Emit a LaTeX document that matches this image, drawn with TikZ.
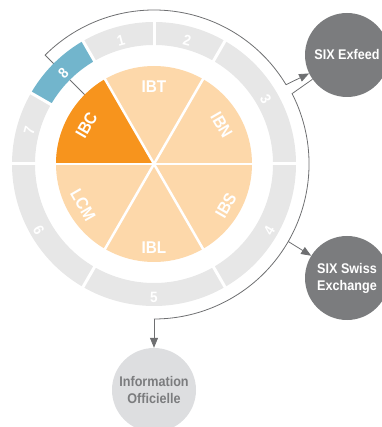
\documentclass[tikz,border=0pt]{standalone}
\usepackage{fontspec}
\setmainfont{Liberation Sans}[FakeStretch=0.9]
\usetikzlibrary{arrows.meta}
\definecolor{pieLight}{HTML}{FDD8AA}
\definecolor{pieDark}{HTML}{F7941D}
\definecolor{ringGray}{HTML}{E7E7E7}
\definecolor{ringBlue}{HTML}{72B5CC}
\definecolor{darkCirc}{HTML}{7B7C7E}
\definecolor{lightCirc}{HTML}{DDDEE0}
\definecolor{lineGray}{HTML}{6E6F71}
\begin{document}
\begin{tikzpicture}[x=1pt,y=1pt,
  bigcirc/.style={circle, minimum size=84pt, inner sep=0pt, align=center,
    font=\bfseries\fontsize{14}{17}\selectfont, text=white},
  pielabel/.style={text=white, font=\bfseries\fontsize{17}{17}\selectfont, inner sep=0pt},
  ringnum/.style={text=white, font=\bfseries\fontsize{15}{15}\selectfont, inner sep=0pt},
  conn/.style={draw=lineGray, line width=0.8pt},
  arr/.style={-{Triangle[length=10pt,width=8pt]}}]
\useasboundingbox (-154,-263) rectangle (227,164);

% connector arc
\coordinate (a0) at (135:97);
\coordinate (a1) at (135:154);
\draw[conn] (a0) -- (a1) arc[start angle=135, end angle=31, radius=154] coordinate (a2);
\coordinate (a3) at (27:155);
\coordinate (a5) at (-30:155);

% ring segments
\foreach \a/\b/\c in {0/60/ringGray,60/90/ringGray,90/120/ringGray,120/150/ringBlue,150/180/ringGray,180/240/ringGray,240/300/ringGray,300/360/ringGray}{
  \fill[\c] (\a:119) arc[start angle=\a, end angle=\b, radius=119] -- (\b:142)
    arc[start angle=\b, end angle=\a, radius=142] -- cycle;
}
\foreach \a in {0,60,90,120,150,180,240,300}{
  \draw[white, line width=3pt] (\a:117) -- (\a:144);
}

% pie
\fill[pieLight] (0,0) circle (98);
\fill[pieDark] (0,0) -- (120:98) arc[start angle=120, end angle=180, radius=98] -- cycle;
\foreach \a in {0,60,120}{
  \draw[white, line width=2.5pt] (\a:99) -- (\a+180:99);
}

% pie labels
\node[pielabel, rotate=0]   (ibt) at (90:77)  {IBT};
\node[pielabel, rotate=-60] (ibn) at (30:78)  {IBN};
\node[pielabel, rotate=60]  (ibc) at (150:78) {IBC};
\node[pielabel, rotate=60]  (ibs) at (-30:83) {IBS};
\node[pielabel, rotate=0]   (ibl) at (-90:84) {IBL};
\node[pielabel, rotate=-60] (lcm) at (210:82) {LCM};

% ring numbers
\node[ringnum, rotate=15]  (n1) at (105:128) {1};
\node[ringnum, rotate=-15] (n2) at (75:128)  {2};
\node[ringnum, rotate=-60] (n3) at (30:129)  {3};
\node[ringnum, rotate=60]  (n4) at (-30:133) {4};
\node[ringnum, rotate=0]   (n5) at (-90:133) {5};
\node[ringnum, rotate=-60] (n6) at (210:133) {6};
\node[ringnum, rotate=75]  (n7) at (165:129) {7};
\node[ringnum, rotate=45]  (n8) at (135:128) {8};

% circles
\node[bigcirc, fill=darkCirc] (exfeed) at (193,109) {SIX Exfeed};
\node[bigcirc, fill=darkCirc] (swiss) at (193,-114) {SIX Swiss\\Exchange};
\node[bigcirc, fill=lightCirc, text=darkCirc] (info) at (0,-226) {Information\\Officielle};

% connectors
\draw[conn, arr] (a2) -- (exfeed);
\draw[conn] (exfeed) -- (a3) arc[start angle=27, end angle=-90, radius=155] coordinate (a4);
\draw[conn, arr] (a4) -- (info);
\draw[conn, arr] (a5) -- (swiss);
\end{tikzpicture}
\end{document}
